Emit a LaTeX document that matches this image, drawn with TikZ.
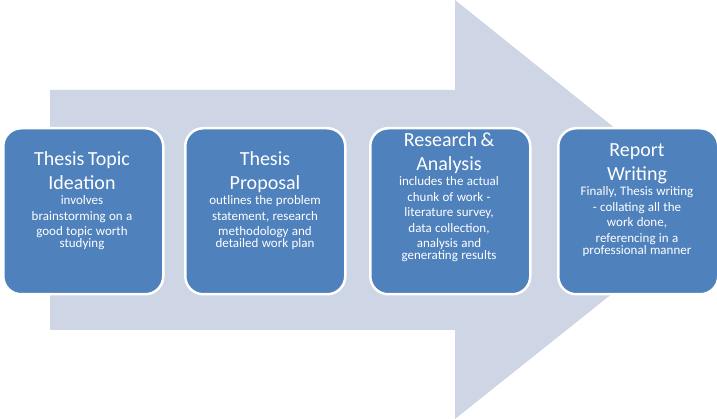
\documentclass[tikz,border=0pt]{standalone}
\usepackage{fontspec}
\setmainfont{Carlito}
\definecolor{boxblue}{RGB}{79,129,189}
\definecolor{arrowgray}{RGB}{206,213,228}
\begin{document}
\begin{tikzpicture}[x=1pt,y=-1pt,
  box/.style={draw=white,line width=2.5pt,fill=boxblue,rounded corners=18pt,minimum width=160pt,minimum height=166pt,anchor=north west,inner sep=0pt},
  txt/.style={anchor=north,text=white,align=center,text width=150pt,inner sep=0pt}]
\useasboundingbox (0,0) rectangle (717,419);
\fill[arrowgray] (50,90) -- (455,90) -- (455,0) -- (717,210) -- (455,419) -- (455,330) -- (50,330) -- cycle;
\node[box] (b1) at (2,127) {};
\node[box] (b2) at (184,127) {};
\node[box] (b3) at (369,127) {};
\node[box] (b4) at (557,127) {};
\node[txt] (t1) at (82,151) {{\fontsize{20}{24}\selectfont Thesis Topic\\Ideation\\}\fontsize{13}{15.5}\selectfont involves\\brainstorming on a\\good topic worth\\studying};
\node[txt] (t2) at (265,151) {{\fontsize{20}{24}\selectfont Thesis\\Proposal\\}\fontsize{13}{15.5}\selectfont outlines the problem\\statement, research\\methodology and\\detailed work plan};
\node[txt] (t3) at (449,132) {{\fontsize{20}{24}\selectfont Research \&\\Analysis\\}\fontsize{13}{15.5}\selectfont includes the actual\\chunk of work -\\literature survey,\\data collection,\\analysis and\\generating results};
\node[txt] (t4) at (637,143) {{\fontsize{20}{24}\selectfont Report\\Writing\\}\fontsize{13}{15.5}\selectfont Finally, Thesis writing\\- collating all the\\work done,\\referencing in a\\professional manner};
\end{tikzpicture}
\end{document}
